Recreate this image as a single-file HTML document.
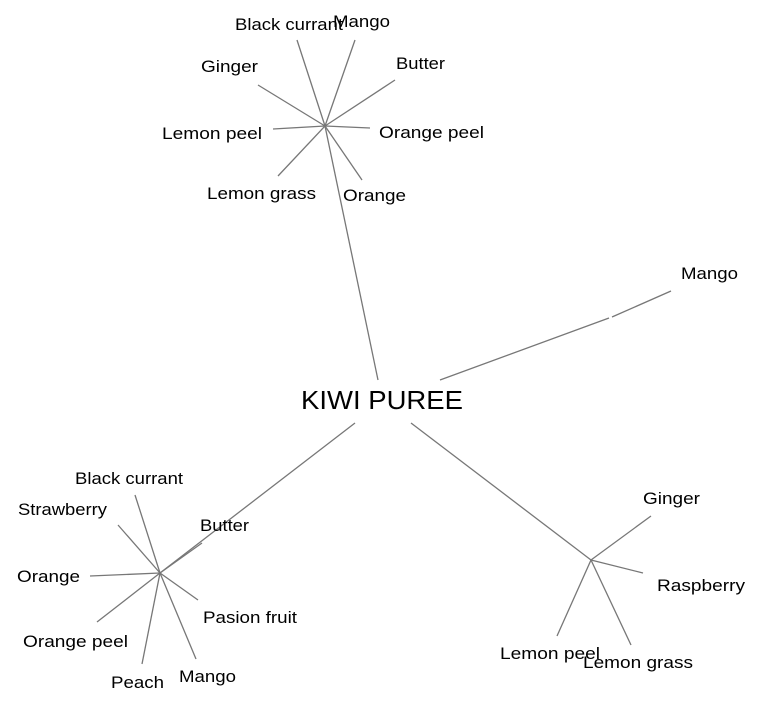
<!DOCTYPE html>
<html><head><meta charset="utf-8"><style>
html,body{margin:0;padding:0;background:#fff;}
svg{display:block;}
text{font-family:"Liberation Sans",Arial,sans-serif;font-size:17px;fill:#000;}
line{stroke:#777;stroke-width:1.3;}
</style></head><body>
<svg width="761" height="705" viewBox="0 0 761 705" xmlns="http://www.w3.org/2000/svg">
<g>
<line x1="325" y1="126" x2="297" y2="40"/>
<line x1="325" y1="126" x2="355" y2="40"/>
<line x1="325" y1="126" x2="395" y2="80"/>
<line x1="325" y1="126" x2="258" y2="85"/>
<line x1="325" y1="126" x2="273" y2="129"/>
<line x1="325" y1="126" x2="370" y2="128"/>
<line x1="325" y1="126" x2="278" y2="176"/>
<line x1="325" y1="126" x2="362" y2="180"/>
<line x1="325" y1="126" x2="378" y2="380"/>
<line x1="440" y1="380" x2="609" y2="318"/>
<line x1="612" y1="317" x2="671" y2="291"/>
<line x1="160" y1="573" x2="355" y2="423"/>
<line x1="160" y1="573" x2="202" y2="543"/>
<line x1="160" y1="573" x2="135" y2="495"/>
<line x1="160" y1="573" x2="118" y2="525"/>
<line x1="160" y1="573" x2="90" y2="576"/>
<line x1="160" y1="573" x2="97" y2="622"/>
<line x1="160" y1="573" x2="142" y2="664"/>
<line x1="160" y1="573" x2="196" y2="659"/>
<line x1="160" y1="573" x2="198" y2="600"/>
<line x1="591" y1="560" x2="411" y2="423"/>
<line x1="591" y1="560" x2="651" y2="516"/>
<line x1="591" y1="560" x2="643" y2="573"/>
<line x1="591" y1="560" x2="557" y2="636"/>
<line x1="591" y1="560" x2="631" y2="645"/>
</g>
<text x="301" y="409" style="font-size:26px" textLength="162" lengthAdjust="spacingAndGlyphs">KIWI PUREE</text>
<text x="235" y="30" textLength="108" lengthAdjust="spacingAndGlyphs">Black currant</text>
<text x="333" y="27" textLength="57" lengthAdjust="spacingAndGlyphs">Mango</text>
<text x="396" y="69" textLength="49" lengthAdjust="spacingAndGlyphs">Butter</text>
<text x="201" y="72" textLength="57" lengthAdjust="spacingAndGlyphs">Ginger</text>
<text x="162" y="139" textLength="100" lengthAdjust="spacingAndGlyphs">Lemon peel</text>
<text x="379" y="138" textLength="105" lengthAdjust="spacingAndGlyphs">Orange peel</text>
<text x="207" y="199" textLength="109" lengthAdjust="spacingAndGlyphs">Lemon grass</text>
<text x="343" y="201" textLength="63" lengthAdjust="spacingAndGlyphs">Orange</text>
<text x="681" y="279" textLength="57" lengthAdjust="spacingAndGlyphs">Mango</text>
<text x="75" y="484" textLength="108" lengthAdjust="spacingAndGlyphs">Black currant</text>
<text x="18" y="515" textLength="89" lengthAdjust="spacingAndGlyphs">Strawberry</text>
<text x="200" y="531" textLength="49" lengthAdjust="spacingAndGlyphs">Butter</text>
<text x="17" y="582" textLength="63" lengthAdjust="spacingAndGlyphs">Orange</text>
<text x="203" y="623" textLength="94" lengthAdjust="spacingAndGlyphs">Pasion fruit</text>
<text x="23" y="647" textLength="105" lengthAdjust="spacingAndGlyphs">Orange peel</text>
<text x="179" y="682" textLength="57" lengthAdjust="spacingAndGlyphs">Mango</text>
<text x="111" y="688" textLength="53" lengthAdjust="spacingAndGlyphs">Peach</text>
<text x="643" y="504" textLength="57" lengthAdjust="spacingAndGlyphs">Ginger</text>
<text x="657" y="591" textLength="88" lengthAdjust="spacingAndGlyphs">Raspberry</text>
<text x="500" y="659" textLength="100" lengthAdjust="spacingAndGlyphs">Lemon peel</text>
<text x="583" y="668" textLength="110" lengthAdjust="spacingAndGlyphs">Lemon grass</text>
</svg>
</body></html>
